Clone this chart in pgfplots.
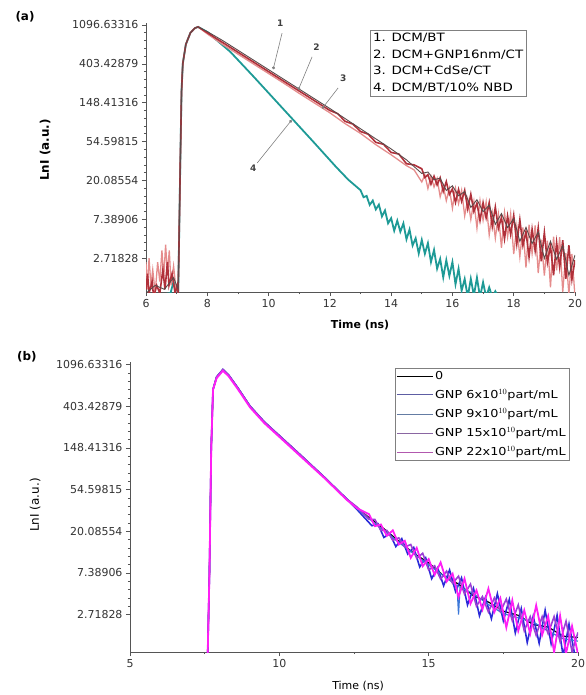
\documentclass[border=0pt]{standalone}
\usepackage{fontspec}
\setmainfont{DejaVu Sans}
\newfontfamily\legfont[FakeStretch=1.17]{DejaVu Sans}
\usepackage{pgfplots}
\pgfplotsset{compat=1.18}
\usetikzlibrary{arrows.meta}

\definecolor{axgray}{HTML}{555555}
\definecolor{cOne}{HTML}{5A4A4A}
\definecolor{cTwo}{HTML}{B0303A}
\definecolor{cThree}{HTML}{E58C8C}
\definecolor{cFour}{HTML}{1E9A96}
\definecolor{bBlue}{HTML}{2A2AD8}
\definecolor{bLight}{HTML}{3C78D8}
\definecolor{bViolet}{HTML}{9B3FD6}
\definecolor{bMag}{HTML}{FF1EF5}

\pgfplotsset{
  decay/.style={
    scale only axis,
    axis x line*=bottom, axis y line*=left,
    axis line style={axgray, line width=0.8bp},
    tick style={axgray, line width=0.6bp},
    tick align=outside,
    major tick length=4bp, minor tick length=2.2bp,
    ytick={1,...,7},
    yticklabels={2.71828,7.38906,20.08554,54.59815,148.41316,403.42879,1096.63316},
    minor y tick num=4, minor x tick num=1,
    tick label style={font=\fontsize{11}{12}\selectfont, text=black!80},
    /pgf/number format/assume math mode=true,
    clip mode=individual,
    legend cell align=left,
  },
}

\begin{document}
\begin{tikzpicture}
\useasboundingbox (0,0) rectangle (586bp,-695bp);

% ---------------- panel (a)
\begin{axis}[decay,
  at={(146bp,-292bp)}, anchor=south west,
  width=429bp, height=269bp,
  xmin=6, xmax=20, ymin=0.13, ymax=7.05,
  xtick={6,8,...,20},
  xlabel={\bfseries Time (ns)},
  xlabel style={at={(axis description cs:0.499,-0.123)}, anchor=center, font=\fontsize{11}{12}\selectfont},
  ylabel={\bfseries LnI (a.u.)},
  ylabel style={at={(axis description cs:-0.235,0.528)}, anchor=center, font=\fontsize{12}{12}\selectfont},
  legend style={at={(0.522,0.974)}, anchor=north west, draw=gray, line width=0.5bp,
    font=\legfont\fontsize{11.5}{13}\selectfont, inner xsep=1bp, inner ysep=1bp, row sep=2.5bp},
]
% 4. teal
\addplot[cFour, line width=1.8bp, forget plot] coordinates {
 (6.0,0.0)(6.8,0.1)(6.9,0.4)(7.0,0.2)(7.05,0.1)
 (7.08,1.5)(7.12,3.5)(7.16,5.3)(7.2,6.0)(7.3,6.5)(7.45,6.8)(7.6,6.92)(7.7,6.95)
 (8.0,6.82)(8.2,6.68)(8.75,6.31)(9.5,5.68)(10,5.25)(10.71,4.64)(11.5,3.96)(12.2,3.35)(12.6,3.02)
 (13.0,2.75)(13.1,2.568)(13.2,2.602)(13.3,2.37)(13.4,2.482)(13.5,2.254)(13.6,2.378)(13.7,2.074)
 (13.8,2.228)(13.9,1.897)(14.0,2.028)(14.1,1.706)(14.2,1.966)(14.3,1.68)(14.4,1.896)(14.5,1.487)
 (14.6,1.737)(14.7,1.326)(14.8,1.514)(14.9,1.12)(15.0,1.47)(15.1,1.113)(15.2,1.386)(15.3,0.90)
 (15.4,1.213)(15.5,0.729)(15.6,0.982)(15.7,0.505)(15.8,0.95)(15.9,0.546)(16.0,0.90)(16.1,0.33)
 (16.2,0.728)(16.3,0.164)(16.4,0.465)(16.5,0.0)(16.6,0.47)(16.7,0.04)(16.8,0.5)(16.9,0.0)
 (17.0,0.38)(17.1,0.0)(17.2,0.25)(17.3,0.0)(17.4,0.15)(17.5,0.0)(17.6,0.05)
};
% 3. pink
\addplot[cThree, line width=1.3bp, forget plot] coordinates {
 (6.0,0.9)(6.04,0.2)(6.1,1.0)(6.16,0.3)(6.22,0.7)(6.3,0.1)(6.38,0.9)(6.45,0.4)(6.52,1.2)
 (6.58,0.5)(6.64,1.35)(6.7,0.6)(6.76,1.2)(6.82,0.3)(6.9,0.8)(6.98,0.2)(7.05,0.3)
 (7.08,1.5)(7.12,3.5)(7.16,5.3)(7.2,6.0)(7.3,6.5)(7.45,6.8)(7.6,6.92)(7.7,6.95)
 (8.0,6.77)(8.5,6.5)(9,6.25)(9.5,6.0)(10,5.75)(10.5,5.5)(11,5.24)(11.5,4.99)(12,4.74)
 (12.5,4.46)(13,4.21)(13.5,3.92)(14,3.66)(14.5,3.38)(14.75,3.27)
 (15.0,2.96)(15.1,3.142)(15.2,2.791)(15.3,3.109)(15.4,2.830)(15.5,3.051)(15.6,2.578)(15.7,2.866)
 (15.8,2.478)(15.9,2.804)(16.0,2.282)(16.1,2.798)(16.2,2.402)(16.3,2.749)(16.4,2.087)(16.5,2.519)
 (16.6,1.997)(16.7,2.465)(16.8,1.774)(16.9,2.487)(17.0,1.974)(17.1,2.446)(17.2,1.597)(17.3,2.172)
 (17.4,1.515)(17.5,2.127)(17.6,1.266)(17.7,2.175)(17.8,1.546)(17.9,2.144)(18.0,1.106)(18.1,1.825)
 (18.2,1.034)(18.3,1.789)(18.4,0.757)(18.5,1.864)(18.6,1.119)(18.7,1.841)(18.8,0.615)(18.9,1.478)
 (19.0,0.552)(19.1,1.450)(19.2,0.249)(19.3,1.553)(19.4,0.691)(19.5,1.539)(19.6,0.126)(19.7,1.130)
 (19.8,0.07)(19.9,1.112)(20.0,0.0)
};
% 2. red
\addplot[cTwo, line width=1.6bp, forget plot] coordinates {
 (6.0,0.2)(6.05,0.6)(6.1,0.1)(6.2,0.4)(6.25,0.0)(6.35,0.3)(6.45,0.1)(6.55,0.7)(6.62,0.2)
 (6.7,0.9)(6.75,0.3)(6.85,0.6)(6.95,0.1)(7.02,0.3)(7.05,0.1)
 (7.08,1.5)(7.12,3.5)(7.16,5.3)(7.2,6.0)(7.3,6.5)(7.45,6.8)(7.6,6.92)(7.7,6.95)(7.8,6.9)
 (8.0,6.8)(8.5,6.55)(9.0,6.30)(9.5,6.05)(10,5.80)(10.5,5.55)(11,5.30)(11.5,5.05)(12.0,4.80)
 (12.25,4.72)(12.5,4.52)(12.75,4.45)(13.0,4.26)(13.25,4.19)(13.5,3.98)(13.75,3.93)(14.0,3.72)
 (14.25,3.68)(14.5,3.43)(14.75,3.40)
 (15.0,3.30)(15.1,3.075)(15.2,3.148)(15.3,2.904)(15.4,3.110)(15.5,2.885)(15.6,3.069)(15.7,2.717)
 (15.8,2.972)(15.9,2.639)(16.0,2.782)(16.1,2.435)(16.2,2.769)(16.3,2.461)(16.4,2.747)(16.5,2.267)
 (16.6,2.644)(16.7,2.202)(16.8,2.416)(16.9,1.967)(17.0,2.428)(17.1,2.037)(17.2,2.426)(17.3,1.817)
 (17.4,2.316)(17.5,1.765)(17.6,2.049)(17.7,1.498)(17.8,2.087)(17.9,1.613)(18.0,2.104)(18.1,1.368)
 (18.2,1.988)(18.3,1.328)(18.4,1.683)(18.5,1.029)(18.6,1.746)(18.7,1.189)(18.8,1.782)(18.9,0.918)
 (19.0,1.660)(19.1,0.891)(19.2,1.316)(19.3,0.560)(19.4,1.406)(19.5,0.765)(19.6,1.461)(19.7,0.469)
 (19.8,1.332)(19.9,0.455)(20.0,0.950)
};
% 1. dark
\addplot[cOne, line width=0.9bp, forget plot] coordinates {
 (6.0,0.1)(6.3,0.3)(6.6,0.2)(6.9,0.5)(7.05,0.2)
 (7.08,1.5)(7.12,3.5)(7.16,5.3)(7.2,6.0)(7.3,6.5)(7.45,6.8)(7.6,6.92)(7.7,6.95)
 (8.0,6.83)(8.5,6.6)(9,6.35)(9.5,6.1)(10,5.85)(10.5,5.6)(11,5.35)(11.5,5.1)(12,4.85)
 (12.5,4.59)(13,4.33)(13.5,4.07)(14,3.81)(14.5,3.53)
 (15.0,3.18)(15.2,3.217)(15.4,3.017)(15.6,3.06)(15.8,2.743)(16.0,2.861)(16.2,2.607)(16.4,2.712)
 (16.6,2.306)(16.8,2.505)(17.0,2.197)(17.2,2.365)(17.4,1.87)(17.6,2.149)(17.8,1.787)(18.0,2.018)
 (18.2,1.433)(18.4,1.792)(18.6,1.377)(18.8,1.671)(19.0,0.996)(19.2,1.436)(19.4,0.968)(19.6,1.324)
 (19.8,0.559)(20.0,1.08)
};
\addlegendimage{empty legend}\addlegendentry{1. DCM/BT}
\addlegendimage{empty legend}\addlegendentry{2. DCM+GNP16nm/CT}
\addlegendimage{empty legend}\addlegendentry{3. DCM+CdSe/CT}
\addlegendimage{empty legend}\addlegendentry{4. DCM/BT/10\% NBD}

% callouts
\draw[gray, line width=0.6bp, -{Circle[length=3bp]}] (axis cs:10.44,6.79) -- (axis cs:10.15,5.86);
\draw[gray, line width=0.6bp, -{Circle[length=3bp]}] (axis cs:11.42,6.18) -- (axis cs:10.97,5.33);
\draw[gray, line width=0.6bp, -{Circle[length=3bp]}] (axis cs:12.27,5.38) -- (axis cs:11.75,4.85);
\draw[gray, line width=0.6bp, -{Circle[length=3bp]}] (axis cs:9.63,3.45) -- (axis cs:10.75,4.55);
\node[font=\fontsize{9}{9}\selectfont\bfseries, text=black!75] at (axis cs:10.38,7.05) {1};
\node[font=\fontsize{9}{9}\selectfont\bfseries, text=black!75] at (axis cs:11.56,6.43) {2};
\node[font=\fontsize{9}{9}\selectfont\bfseries, text=black!75] at (axis cs:12.44,5.64) {3};
\node[font=\fontsize{9}{9}\selectfont\bfseries, text=black!75] at (axis cs:9.50,3.32) {4};
\node[font=\fontsize{12}{12}\selectfont\bfseries] at (rel axis cs:-0.282,1.022) {(a)};
\end{axis}

% ---------------- panel (b)
\begin{axis}[decay,
  at={(130bp,-652bp)}, anchor=south west,
  width=448bp, height=290bp,
  xmin=5, xmax=20, ymin=0.1, ymax=7.06,
  xtick={5,10,15,20},
  xlabel={Time (ns)},
  xlabel style={at={(axis description cs:0.509,-0.117)}, anchor=center, font=\fontsize{11}{12}\selectfont},
  ylabel={LnI (a.u.)},
  ylabel style={at={(axis description cs:-0.212,0.507)}, anchor=center, font=\fontsize{12}{12}\selectfont},
  legend style={at={(0.592,0.979)}, anchor=north west, draw=gray, line width=0.5bp,
    font=\legfont\fontsize{11}{13}\selectfont, inner xsep=1bp, inner ysep=1bp, row sep=4.5bp},
  legend image code/.code={\draw[#1] (0bp,0bp) -- (36bp,0bp);},
]
\addplot[black, line width=1.2bp, forget plot] coordinates {
 (7.5,0)(7.6,0.0)(7.66,2.0)(7.72,5.0)(7.78,6.4)(7.9,6.7)(8.11,6.88)(8.3,6.75)(8.6,6.45)(9.02,6.0)
 (9.5,5.62)(10.02,5.28)(10.69,4.84)(11.5,4.30)(12.26,3.77)(12.6,3.56)
 (13,3.33)(13.5,3.06)(14,2.76)(14.5,2.47)(15,2.24)(15.5,1.93)(16,1.73)(16.5,1.45)(17,1.30)
 (17.5,1.08)(18,0.98)(18.5,0.76)(19,0.70)(19.5,0.48)(20,0.45)
};
\addplot[bBlue, line width=1.6bp, forget plot] coordinates {
 (7.5,0)(7.6,0.0)(7.66,2.0)(7.72,5.0)(7.78,6.4)(7.9,6.7)(8.11,6.88)(8.3,6.75)(8.6,6.45)(9.02,6.0)
 (9.5,5.62)(10.02,5.28)(10.69,4.84)(11.5,4.30)(12.26,3.77)(12.6,3.52)
 (13.1,3.13)(13.3,3.18)(13.5,2.85)(13.7,2.94)(13.9,2.63)(14.1,2.82)(14.3,2.45)(14.5,2.61)
 (14.7,2.14)(14.9,2.36)(15.1,1.86)(15.3,2.12)(15.5,1.69)(15.7,2.07)(15.9,1.55)(16.1,1.88)
 (16.3,1.23)(16.5,1.63)(16.7,0.97)(16.9,1.41)(17.1,0.90)(17.3,1.50)(17.5,0.85)(17.7,1.36)
 (17.9,0.56)(18.1,1.14)(18.3,0.33)(18.5,0.96)(18.7,0.31)(18.9,1.10)(19.1,0.30)(19.3,0.98)
 (19.5,0.01)(19.7,0.77)(19.9,0.0)
};
\addplot[bLight, line width=1.2bp, forget plot] coordinates {
 (7.5,0)(7.6,0.0)(7.66,2.0)(7.72,5.0)(7.78,6.4)(7.9,6.7)(8.11,6.88)(8.3,6.75)(8.6,6.45)(9.02,6.0)
 (9.5,5.62)(10.02,5.28)(10.69,4.84)(11.5,4.30)(12.26,3.77)(12.6,3.54)
 (13,3.30)(14,2.73)(15,2.19)(15.95,1.69)(16.0,1.0)(16.05,1.66)(16.5,1.50)(17,1.24)(17.5,1.02)
 (18,0.92)(18.5,0.82)(19,0.60)(19.5,0.42)(20,0.36)
};
\addplot[bViolet, line width=1.6bp, forget plot] coordinates {
 (7.5,0)(7.6,0.0)(7.66,2.0)(7.72,5.0)(7.78,6.4)(7.9,6.7)(8.11,6.88)(8.3,6.75)(8.6,6.45)(9.02,6.0)
 (9.5,5.62)(10.02,5.28)(10.69,4.84)(11.5,4.30)(12.26,3.77)(12.6,3.58)
 (13.0,3.29)(13.2,3.28)(13.4,3.02)(13.6,3.02)(13.8,2.78)(14.0,2.84)(14.2,2.62)(14.4,2.68)
 (14.6,2.35)(14.8,2.47)(15.0,2.07)(15.2,2.17)(15.4,1.85)(15.6,2.04)(15.8,1.75)(16.0,1.92)
 (16.2,1.49)(16.4,1.73)(16.6,1.20)(16.8,1.43)(17.0,1.06)(17.2,1.40)(17.4,1.07)(17.6,1.37)
 (17.8,0.85)(18.0,1.23)(18.2,0.61)(18.4,0.95)(18.6,0.50)(18.8,0.95)(19.0,0.54)(19.2,0.95)
 (19.4,0.35)(19.6,0.84)(19.8,0.11)(20.0,0.57)
};
\addplot[bMag, line width=1.8bp, forget plot] coordinates {
 (7.5,0)(7.6,0.0)(7.66,2.0)(7.72,5.0)(7.78,6.4)(7.9,6.67)(8.11,6.85)(8.3,6.72)(8.6,6.42)(9.02,5.97)
 (9.5,5.59)(10.02,5.25)(10.69,4.81)(11.5,4.28)(12.26,3.75)(12.6,3.55)
 (13.0,3.41)(13.2,3.12)(13.4,3.16)(13.6,2.89)(13.8,3.02)(14.0,2.68)(14.2,2.77)(14.4,2.36)
 (14.6,2.60)(14.8,2.16)(15.0,2.33)(15.2,1.95)(15.4,2.25)(15.6,1.79)(15.8,1.98)(16.0,1.42)
 (16.2,1.86)(16.4,1.26)(16.6,1.58)(16.8,1.12)(17.0,1.62)(17.2,1.06)(17.4,1.39)(17.6,0.69)
 (17.8,1.34)(18.0,0.61)(18.2,1.10)(18.4,0.54)(18.6,1.22)(18.8,0.51)(19.0,0.96)(19.2,0.10)
 (19.4,0.97)(19.6,0.07)(19.8,0.72)(20.0,0.05)
};
\addlegendimage{black, line width=0.6bp}\addlegendentry{0}
\addlegendimage{bBlue!40!gray, line width=0.5bp}\addlegendentry{GNP 6x10$^{10}$part/mL}
\addlegendimage{bLight!40!gray, line width=0.5bp}\addlegendentry{GNP 9x10$^{10}$part/mL}
\addlegendimage{bViolet!40!gray, line width=0.5bp}\addlegendentry{GNP 15x10$^{10}$part/mL}
\addlegendimage{bMag!40!gray, line width=0.5bp}\addlegendentry{GNP 22x10$^{10}$part/mL}
\node[font=\fontsize{12}{12}\selectfont\bfseries] at (rel axis cs:-0.23,1.017) {(b)};
\end{axis}
\end{tikzpicture}
\end{document}
